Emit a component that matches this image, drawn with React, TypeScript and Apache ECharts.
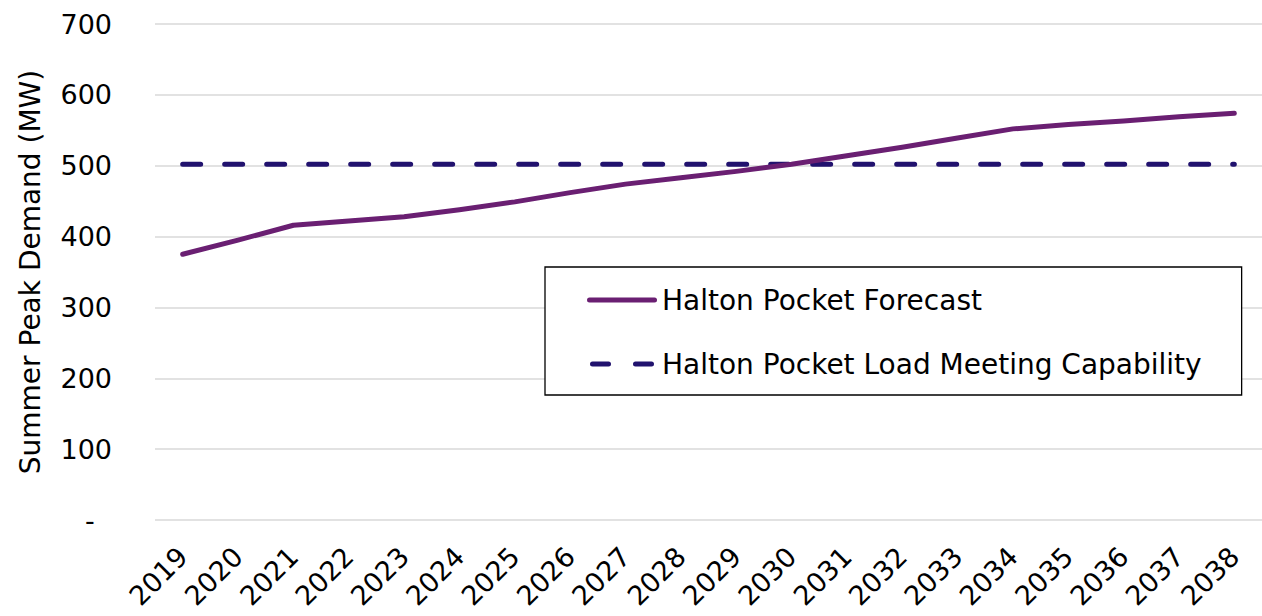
import React, { useEffect, useRef } from "react";
import * as echarts from "echarts";

const years = ["2019","2020","2021","2022","2023","2024","2025","2026","2027","2028","2029","2030","2031","2032","2033","2034","2035","2036","2037","2038"];
const forecast = [375, 395, 416, 422, 428, 438, 449, 462, 474, 483, 492, 502, 514, 526, 539, 552, 558, 563, 569, 574];
const capability = [502, 502, 502, 502, 502, 502, 502, 502, 502, 502, 502, 502, 502, 502, 502, 502, 502, 502, 502, 502];
const FONT = "DejaVu Sans";
const C1 = "#6a1f72";
const C2 = "#21126e";

export default function App() {
  const ref = useRef<HTMLDivElement>(null);
  useEffect(() => {
    if (!ref.current) return;
    const chart = echarts.init(ref.current, undefined, { renderer: "svg" });
    chart.setOption({
      animation: false,
      backgroundColor: "#ffffff",
      textStyle: { fontFamily: FONT },
      grid: { left: 155, right: 0, top: 24, bottom: 96, containLabel: false },
      legend: {
        orient: "vertical",
        left: 545,
        top: 267,
        padding: [19, 40, 17, 42],
        itemGap: 36,
        itemWidth: 70,
        itemHeight: 5,
        borderColor: "#000000",
        borderWidth: 1.3,
        backgroundColor: "#ffffff",
        textStyle: { fontFamily: FONT, fontSize: 28, color: "#000000", lineHeight: 28, padding: [0, 0, 0, 0] },
        data: [
          { name: "Halton Pocket Forecast", icon: "path://M2.5,0H67.5A2.5,2.5 0 0 1 67.5,5H2.5A2.5,2.5 0 0 1 2.5,0Z", itemStyle: { color: C1 } },
          {
            name: "Halton Pocket Load Meeting Capability",
            icon: "path://M2.5,0H18.5A2.5,2.5 0 0 1 18.5,5H2.5A2.5,2.5 0 0 1 2.5,0ZM45.5,0H61.5A2.5,2.5 0 0 1 61.5,5H45.5A2.5,2.5 0 0 1 45.5,0Z",
            itemStyle: { color: C2 },
          },
        ],
      },
      xAxis: {
        type: "category",
        data: years,
        boundaryGap: true,
        axisLine: { show: false },
        axisTick: { show: false },
        axisLabel: { rotate: 45, fontSize: 27, color: "#000000", fontFamily: FONT, margin: 32, interval: 0 },
      },
      yAxis: {
        type: "value",
        min: 0,
        max: 700,
        interval: 100,
        name: "Summer Peak Demand (MW)",
        nameLocation: "middle",
        nameGap: 111,
        nameTextStyle: { fontSize: 28, color: "#000000", fontFamily: FONT },
        axisLine: { show: false },
        axisTick: { show: false },
        axisLabel: {
          fontSize: 27,
          color: "#000000",
          fontFamily: FONT,
          margin: 43,
          formatter: (v: number) => (v === 0 ? "-  " : String(v)),
        },
        splitLine: { lineStyle: { color: "#d9d9d9", width: 1.5 } },
      },
      series: [
        {
          name: "Halton Pocket Forecast",
          type: "line",
          data: forecast,
          symbol: "none",
          lineStyle: { color: C1, width: 5, cap: "round", join: "round" },
          itemStyle: { color: C1 },
          z: 3,
        },
        {
          name: "Halton Pocket Load Meeting Capability",
          type: "line",
          data: capability,
          symbol: "none",
          lineStyle: { color: C2, width: 5, type: [18, 24], cap: "round" },
          itemStyle: { color: C2 },
          z: 2,
        },
      ],
    });
    return () => chart.dispose();
  }, []);
  return (
    <div
      ref={ref}
      style={{ position: "fixed", left: 0, top: 0, width: 1262, height: 616, background: "#fff" }}
    />
  );
}
